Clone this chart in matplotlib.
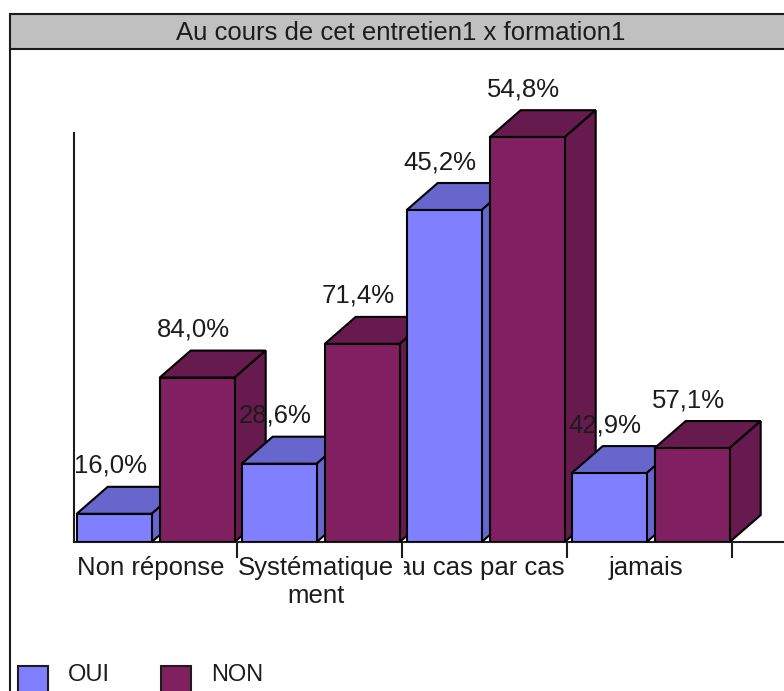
import matplotlib
matplotlib.use("Agg")
import matplotlib.pyplot as plt
from matplotlib.patches import Polygon, Rectangle
from matplotlib.transforms import Bbox

categories = ["Non réponse", "Systématique\nment", "au cas par cas", "jamais"]
# bar heights are effectifs, the labels are row percentages
oui_values = [3.6, 10, 42.4, 8.8]
non_values = [21, 25.3, 51.7, 12]
oui_labels = ["16,0%", "28,6%", "45,2%", "42,9%"]
non_labels = ["84,0%", "71,4%", "54,8%", "57,1%"]

W, H = 784, 691
FS = 18.5
DARK = "#1c1c1c"
plt.rcParams["font.family"] = ["Liberation Sans", "DejaVu Sans"]

fig = plt.figure(figsize=(W / 100, H / 100), dpi=100, facecolor="white")

def fx(p):
    return p / W

def fy(p):
    # pixels counted from the top of the picture
    return 1 - p / H

# title band and left frame line
fig.add_artist(Rectangle((fx(10), fy(49)), fx(790 - 10), fy(14) - fy(49), transform=fig.transFigure,
                         facecolor="#c0c0c0", edgecolor=DARK, lw=1.5))
fig.add_artist(plt.Line2D([fx(10), fx(10)], [fy(49), fy(0) - 1], transform=fig.transFigure, color=DARK, lw=1.5))
fig.text(fx(401), fy(33), "Au cours de cet entretien1 x formation1", ha="center", va="center",
         fontsize=FS, color=DARK)

# 1 x unit = 165 px, 1 y unit = 7.83 px
ax = fig.add_axes([fx(74), fy(542), fx(W - 74), fy(133) - fy(542)])
ax.patch.set_alpha(0)
x0 = 2.3 / 165
ax.set_xlim(x0, x0 + (W - 74) / 165)
ax.set_ylim(0, 409 / 7.83)
depth_x = 31 / 165
depth_y = 27 / 7.83
bar_w = 75 / 165

def bar3d(x, h, front, shade, z):
    ax.bar(x, h, bar_w, align="edge", color=front, edgecolor="black", lw=1.5, zorder=z + 0.2)
    top = [(x, h), (x + depth_x, h + depth_y), (x + bar_w + depth_x, h + depth_y), (x + bar_w, h)]
    side = [(x + bar_w, 0), (x + bar_w + depth_x, depth_y), (x + bar_w + depth_x, h + depth_y), (x + bar_w, h)]
    for pts in (top, side):
        ax.add_patch(Polygon(pts, closed=True, facecolor=shade, edgecolor="black", lw=1.5,
                             zorder=z, clip_on=False))

for i in range(len(categories)):
    x_oui = i + 5 / 165
    x_non = i + 88 / 165
    bar3d(x_oui, oui_values[i], "#8080ff", "#6666cc", 2 + 2 * i)
    bar3d(x_non, non_values[i], "#802060", "#661a4d", 3 + 2 * i)
    for x, v, lab in ((x_oui, oui_values[i], oui_labels[i]), (x_non, non_values[i], non_labels[i])):
        ax.annotate(lab, (x + bar_w / 2, v), xytext=(-4, 48), textcoords="offset pixels",
                    ha="center", va="center", fontsize=FS, color=DARK, zorder=20, annotation_clip=False)

for s in ("top", "right"):
    ax.spines[s].set_visible(False)
for s in ("left", "bottom"):
    ax.spines[s].set_linewidth(1.5)
    ax.spines[s].set_color(DARK)
    ax.spines[s].set_zorder(1)

ax.set_yticks([])
ax.set_xticks([1, 2, 3, 4])
ax.set_xticklabels([])
ax.tick_params(axis="x", which="major", length=11.5, width=1.5, color=DARK)
ax.set_xticks([i + 0.48 for i in range(4)], minor=True)
ax.set_xticklabels(categories, minor=True, fontsize=FS, color=DARK)
ax.tick_params(axis="x", which="minor", length=0, pad=10)

# the "au" of the third label is cut off at the tick in the original
lab3 = ax.get_xticklabels(minor=True)[2]
lab3.set_clip_box(Bbox([[404, 0], [W, H]]))
lab3.set_clip_on(True)

# legend along the bottom edge
for x_box, x_txt, col, name in ((18, 68, "#8080ff", "OUI"), (161, 211, "#802060", "NON")):
    fig.add_artist(Rectangle((fx(x_box), fy(696)), fx(30), fy(666) - fy(696), transform=fig.transFigure,
                             facecolor=col, edgecolor=DARK, lw=1.5))
    fig.text(fx(x_txt), fy(675), name, ha="left", va="center", fontsize=17, color=DARK)

fig.savefig("out.png", dpi=100)
